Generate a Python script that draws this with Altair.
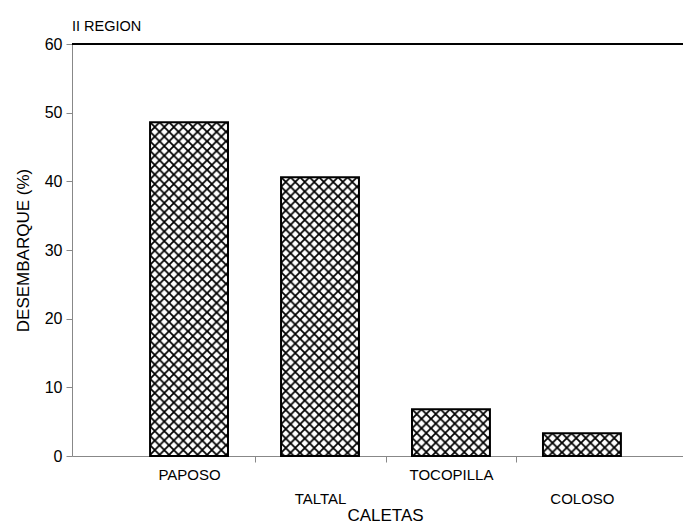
import base64
import altair as alt
import pandas as pd

# ---- data ----
caletas = ["PAPOSO", "TALTAL", "TOCOPILLA", "COLOSO"]
desembarque = [48.6, 40.6, 6.8, 3.3]
y_ticks = [0, 10, 20, 30, 40, 50, 60]
lower_labels = ["TALTAL", "COLOSO"]

df = pd.DataFrame({"caleta": caletas, "pct": desembarque})

FONT = "Liberation Sans, Arial, Helvetica, sans-serif"

# cross-hatch fill (fixed pixel pitch, drawn as an SVG pattern image)
hatch_svg = (
    "<svg xmlns='http://www.w3.org/2000/svg' width='100%' height='100%'>"
    "<defs><pattern id='h' width='9.5' height='9.5' patternUnits='userSpaceOnUse'>"
    "<rect width='9.5' height='9.5' fill='white'/>"
    "<path d='M-1,-1 L10.5,10.5 M10.5,-1 L-1,10.5' stroke='black' stroke-width='1.8'/>"
    "</pattern></defs>"
    "<rect width='100%' height='100%' fill='url(#h)'/></svg>"
)
HATCH = "data:image/svg+xml;base64," + base64.b64encode(hatch_svg.encode()).decode()

low_test = " || ".join(f"datum.value === '{c}'" for c in lower_labels)

x_enc = alt.X(
    "caleta:N",
    sort=caletas,
    title="CALETAS",
    scale=alt.Scale(paddingInner=0.405, paddingOuter=0.535, align=0.557),
    axis=alt.Axis(
        labelAngle=0,
        tickSize=6,
        tickOffset=65.5,
        labelOffset=-65.5,
        tickOpacity={"condition": {"test": "datum.value === 'COLOSO'", "value": 0}, "value": 1},
        labelPadding={"condition": {"test": low_test, "value": 29}, "value": 5},
        labelFontSize=15,
        titleFontSize=17,
        titleFontWeight="normal",
        titleX=313,
        titleY=64,
        titleBaseline="alphabetic",
        titleAnchor="middle",
    ),
)
y_enc = alt.Y(
    "pct:Q",
    scale=alt.Scale(domain=[0, 60], nice=False),
    axis=alt.Axis(
        values=y_ticks,
        title="DESEMBARQUE (%)",
        grid=False,
        tickSize=6,
        labelPadding=4,
        labelFontSize=16,
        titleFontSize=17,
        titleFontWeight="normal",
        titleX=-44,
        titleBaseline="alphabetic",
    ),
)

base = alt.Chart(df)

hatch = base.mark_image(aspect=False).encode(
    x=x_enc, y=y_enc, y2=alt.datum(0), url=alt.value(HATCH)
)
outline = base.mark_bar(fillOpacity=0, stroke="black", strokeWidth=2).encode(
    x=x_enc, y=y_enc
)
top_line = base.mark_rule(color="black", strokeWidth=1.5).encode(y=alt.datum(60))

chart = (
    alt.layer(hatch, outline, top_line)
    .properties(
        width=611,
        height=412,
        autosize=alt.AutoSizeParams(type="none"),
        padding={"left": 64, "top": 36, "right": 0, "bottom": 68},
        title=alt.Title(
            "II REGION",
            anchor="start",
            frame="group",
            fontSize=14.5,
            font=FONT,
            fontWeight="normal",
            color="black",
            baseline="alphabetic",
            offset=13,
            dy=22,
        ),
    )
    .configure_view(stroke=None)
    .configure_axis(
        domainColor="black",
        domainWidth=1.5,
        tickColor="black",
        tickWidth=1.5,
        labelColor="black",
        titleColor="black",
        labelFont=FONT,
        titleFont=FONT,
        titleFontWeight="normal",
    )
    .configure(background="white")
)

chart.save("out.html", embed_options={"renderer": "svg", "actions": False})
